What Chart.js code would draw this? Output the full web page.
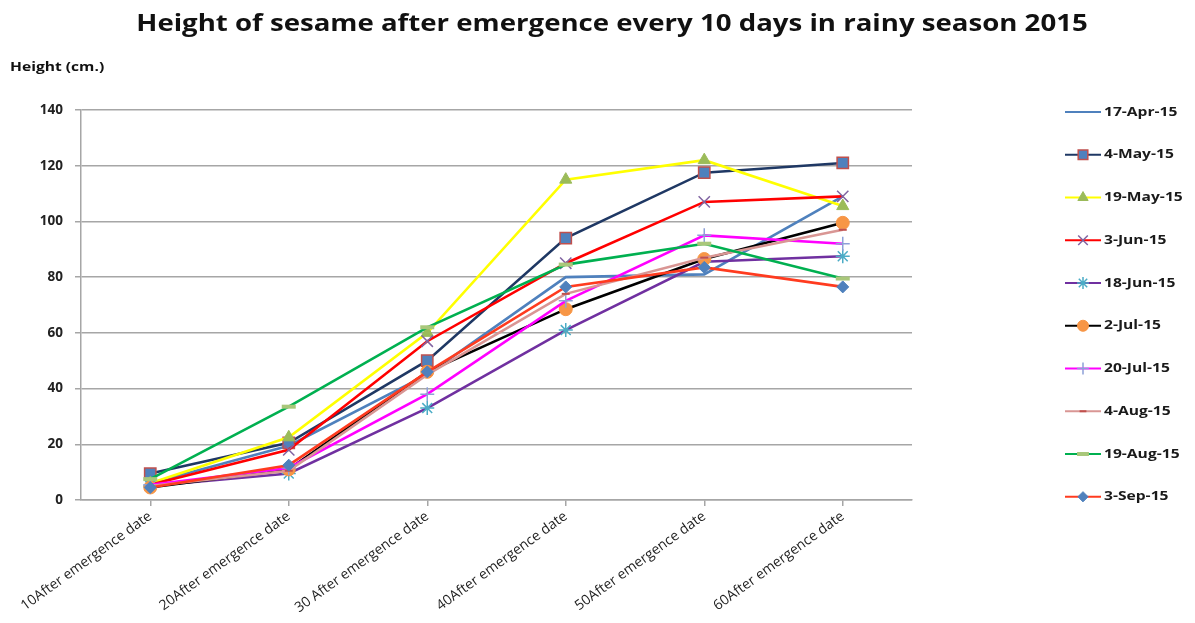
<!DOCTYPE html>
<html>
<head>
<meta charset="utf-8">
<script src="https://cdn.jsdelivr.net/npm/chart.js@4"></script>
<style>
  html, body { margin: 0; padding: 0; background: #ffffff; }
  #wrap { width: 1195px; height: 623px; position: relative; }
</style>
</head>
<body>
<div id="wrap"><canvas id="c" width="1195" height="623"></canvas></div>
<script>
// Categories (days after emergence)
const categories = [
  '10After emergence date',
  '20After emergence date',
  '30 After emergence date',
  '40After emergence date',
  '50After emergence date',
  '60After emergence date'
];

// Sowing dates (series names)
const seriesNames = ['17-Apr-15', '4-May-15', '19-May-15', '3-Jun-15', '18-Jun-15',
                     '2-Jul-15', '20-Jul-15', '4-Aug-15', '19-Aug-15', '3-Sep-15'];

// Plant height (cm.) for each sowing date
const apr17 = [6, 19.5, 45, 80, 81, 109];
const may4  = [9.5, 20.5, 50, 94, 117.5, 121];
const may19 = [6, 22.5, 60, 115, 122, 105.5];
const jun3  = [5.5, 18, 57, 85, 107, 109];
const jun18 = [5, 9.5, 33, 61, 85.5, 87.5];
const jul2  = [4.5, 11, 46, 68.5, 86.5, 99.5];
const jul20 = [5.5, 11.5, 38, 71.5, 95, 92];
const aug4  = [5, 10.5, 45, 74, 87, 97];
const aug19 = [7.5, 33.5, 62, 84.5, 92, 79.5];
const sep3  = [4.5, 12.5, 46, 76.5, 83.5, 76.5];

// Y axis ticks
const yTicks = [0, 20, 40, 60, 80, 100, 120, 140];

const seriesValues = [apr17, may4, may19, jun3, jun18, jul2, jul20, aug4, aug19, sep3];

const styles = [
  { line: '#4F81BD', point: false },
  { line: '#1F3864', point: 'rect', r: 8, fill: '#4F81BD', edge: '#C0504D', bw: 1.5 },
  { line: '#FFFF00', point: 'triangle', r: 7, fill: '#9BBB59', edge: '#9BBB59', bw: 1 },
  { line: '#FF0000', point: 'crossRot', r: 8, fill: '#8064A2', edge: '#8064A2', bw: 1.5 },
  { line: '#7030A0', point: 'star', r: 7, fill: '#4BACC6', edge: '#4BACC6', bw: 1.5 },
  { line: '#000000', point: 'circle', r: 6.5, fill: '#F79646', edge: '#F79646', bw: 1 },
  { line: '#FF00FF', point: 'cross', r: 7, fill: '#8DA0D8', edge: '#8DA0D8', bw: 1.5 },
  { line: '#D99694', point: 'line', r: 4, fill: '#C0504D', edge: '#C0504D', bw: 2 },
  { line: '#00B050', point: 'line', r: 7, fill: '#A9C77A', edge: '#A9C77A', bw: 4 },
  { line: '#FF3B1F', point: 'rectRot', r: 6, fill: '#4F81BD', edge: '#4F81BD', bw: 1 }
];

const datasets = seriesNames.map((name, i) => {
  const s = styles[i];
  return {
    label: name,
    data: seriesValues[i],
    borderColor: s.line,
    backgroundColor: s.line,
    borderWidth: 2.6,
    tension: 0,
    order: seriesNames.length - i,
    pointStyle: s.point || 'circle',
    pointRadius: s.point ? s.r : 0,
    pointHoverRadius: s.point ? s.r : 0,
    pointBackgroundColor: s.fill || s.line,
    pointBorderColor: s.edge || s.line,
    pointBorderWidth: s.bw || 1
  };
});

const FONT = "'Open Sans', 'DejaVu Sans', sans-serif";
const STRETCH = 1.2; // text in the header and legend is drawn slightly widened

function wideText(ctx, text, x, y, align) {
  ctx.save();
  ctx.translate(x, y);
  ctx.scale(STRETCH, 1);
  ctx.textAlign = align;
  ctx.fillText(text, 0, 0);
  ctx.restore();
}

function drawMarker(ctx, ds, x, y) {
  ctx.save();
  ctx.fillStyle = ds.pointBackgroundColor;
  ctx.strokeStyle = ds.pointBorderColor;
  ctx.lineWidth = ds.pointBorderWidth;
  Chart.helpers.drawPoint(ctx, {
    pointStyle: ds.pointStyle,
    radius: ds.pointRadius * 0.85,
    borderWidth: ds.pointBorderWidth,
    rotation: 0
  }, x, y);
  ctx.restore();
}

// Title, axis caption and the legend column on the right
const decorations = {
  id: 'decorations',
  afterDraw(chart) {
    const ctx = chart.ctx;
    ctx.save();
    ctx.fillStyle = '#111111';
    ctx.textBaseline = 'middle';
    ctx.font = "bold 23px " + FONT;
    wideText(ctx, 'Height of sesame after emergence every 10 days in rainy season 2015', 612, 24, 'center');

    ctx.font = "bold 13px " + FONT;
    wideText(ctx, 'Height (cm.)', 10, 67, 'left');

    const x0 = 1065, x1 = 1101;
    chart.data.datasets.forEach((ds, i) => {
      const y = 112 + i * 42.75;
      ctx.strokeStyle = ds.borderColor;
      ctx.lineWidth = 2;
      ctx.beginPath();
      ctx.moveTo(x0, y);
      ctx.lineTo(x1, y);
      ctx.stroke();
      if (ds.pointRadius > 0) {
        drawMarker(ctx, ds, (x0 + x1) / 2, y);
      }
      ctx.fillStyle = '#1a1a1a';
      ctx.font = "bold 13px " + FONT;
      wideText(ctx, ds.label, x1 + 3, y, 'left');
    });
    ctx.restore();
  }
};

new Chart(document.getElementById('c'), {
  type: 'line',
  data: { labels: categories, datasets },
  options: {
    responsive: false,
    animation: false,
    devicePixelRatio: 1,
    layout: { padding: { left: 0, top: 110, right: 283, bottom: 0 } },
    plugins: {
      legend: { display: false },
      title: { display: false },
      tooltip: { enabled: false }
    },
    scales: {
      x: {
        offset: true,
        grid: { display: true, drawOnChartArea: false, drawTicks: true, tickLength: 6, color: '#A6A6A6', lineWidth: 1.5 },
        border: { color: '#A6A6A6', width: 1.5 },
        ticks: {
          autoSkip: false,
          minRotation: 36,
          maxRotation: 36,
          padding: 2,
          color: '#222222',
          font: { family: FONT, size: 14 }
        },
        afterFit(scale) { scale.height = 123; }
      },
      y: {
        min: 0,
        max: 140,
        afterBuildTicks(scale) { scale.ticks = yTicks.map(v => ({ value: v })); },
        grid: { color: '#A6A6A6', lineWidth: 1.5, tickLength: 6 },
        border: { color: '#A6A6A6', width: 1.5 },
        ticks: {
          padding: 12,
          color: '#222222',
          font: { family: FONT, size: 13.5, weight: 'bold' }
        },
        afterFit(scale) { scale.width = 81; }
      }
    }
  },
  plugins: [decorations]
});
</script>
</body>
</html>
